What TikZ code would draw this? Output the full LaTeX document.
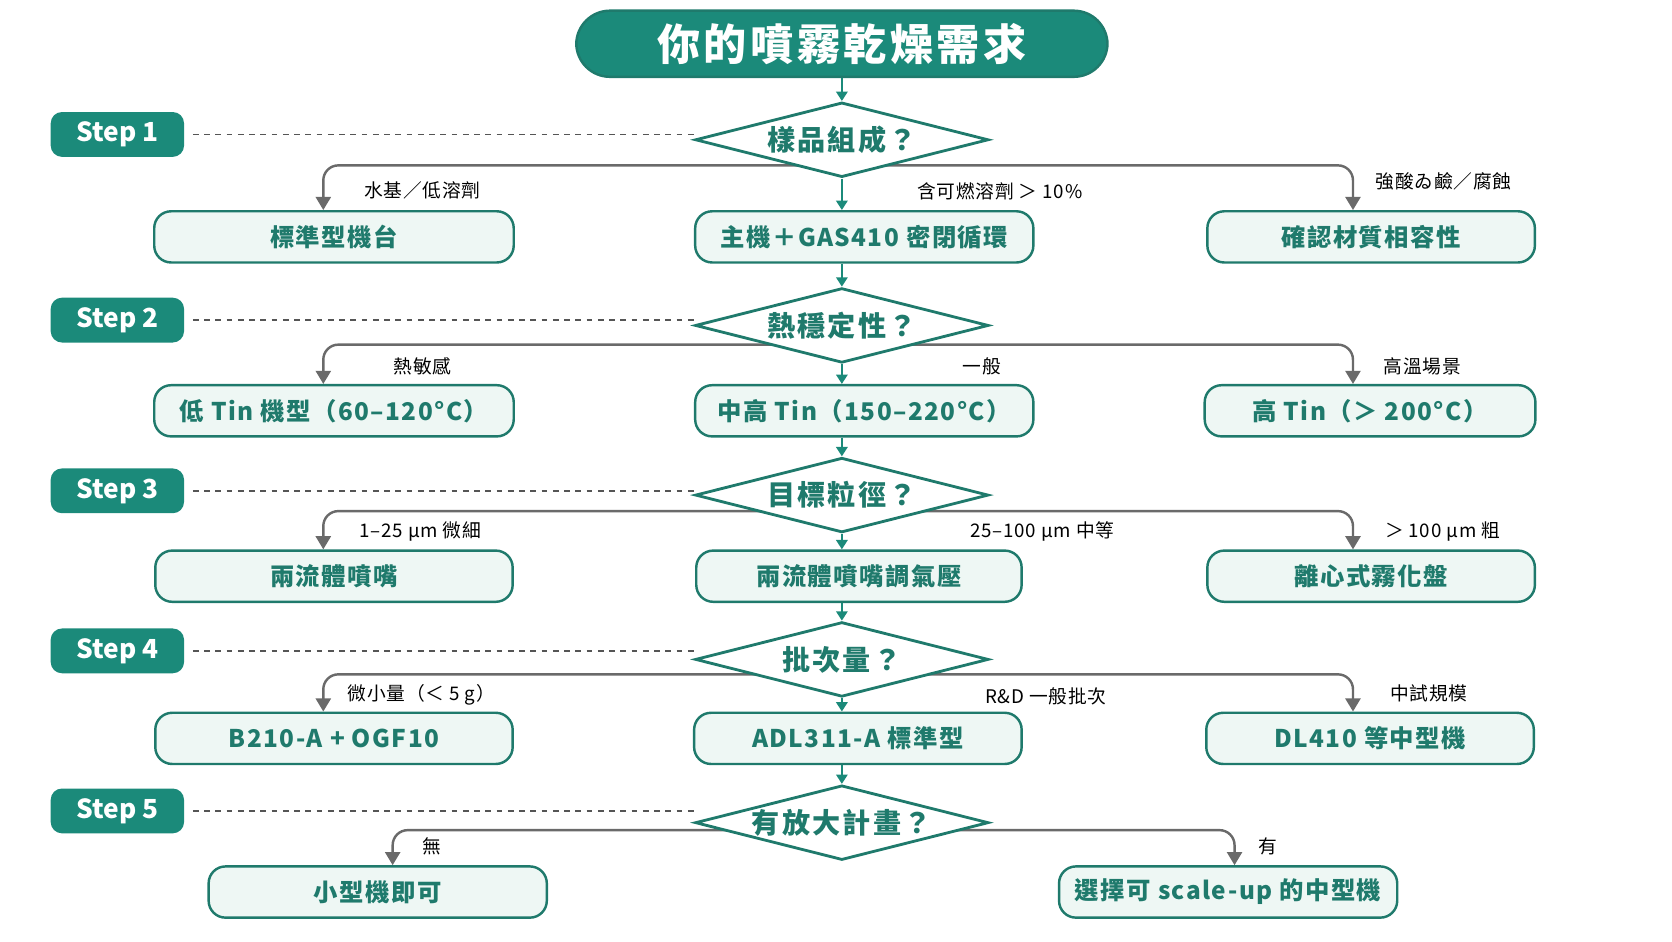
\documentclass[tikz,border=0pt]{standalone}
\usepackage{fontspec}
\setmainfont{Noto Sans CJK TC}
\usepackage{xcolor}
\definecolor{colorTeal}{HTML}{1B8A7A}
\definecolor{colorEdge}{HTML}{1F7A6C}
\definecolor{colorFill}{HTML}{EEF7F4}
\definecolor{colorBranch}{HTML}{6A6A6A}
\usetikzlibrary{arrows.meta, shapes.geometric, positioning}
\pgfdeclarelayer{background}
\pgfsetlayers{background,main}
\tikzset{
  choicebox/.style={draw=colorEdge, line width=1.3pt, fill=colorFill, rounded corners=9pt, minimum width=#1, minimum height=0.96cm, text=colorEdge, font=\bfseries\fontsize{13}{15}\selectfont\addfontfeature{LetterSpace=6}},
  question/.style={diamond, draw=colorEdge, line width=1.5pt, fill=white, aspect=4, minimum width=5.5cm, minimum height=1.4cm, inner sep=0pt, text=colorEdge, font=\bfseries\fontsize{15}{17}\selectfont\addfontfeature{LetterSpace=8}},
  stepbadge/.style={fill=colorTeal, rounded corners=6pt, minimum width=2.5cm, minimum height=0.84cm, text=white, font=\bfseries\fontsize{14}{16}\selectfont},
  flow/.style={-{Triangle[length=5pt,width=6pt]}, colorTeal, line width=1.3pt},
  branch/.style={-{Triangle[length=7pt,width=8pt]}, colorBranch, line width=1.3pt, rounded corners=8pt},
  lbl/.style={font=\fontsize{10}{12}\selectfont\addfontfeature{LetterSpace=4}, text=black}
}
\begin{document}
\begin{tikzpicture}[x=0.02cm, y=-0.02cm]
\useasboundingbox (0,0) rectangle (1567,882);
\node[fill=colorTeal, draw=colorEdge, line width=1.3pt, rounded corners=18pt, minimum width=9.96cm, minimum height=1.24cm, text=white, font=\bfseries\fontsize{23}{26}\selectfont\addfontfeature{LetterSpace=8}] (title) at (789,41) {你的噴霧乾燥需求};
% steps and dashed guides
\foreach \n/\y in {1/126, 2/300, 3/460, 4/610, 5/760} {
  \node[stepbadge] (step\n) at (110,\y) {Step \n};
  \draw[dashed, colorBranch!80!black, line width=1pt] (step\n.east) ++(8,0) -- (650,\y);
}
% questions
\node[question] (q1) at (789,131) {樣品組成？};
\node[question] (q2) at (789,305) {熱穩定性？};
\node[question] (q3) at (789,464) {目標粒徑？};
\node[question] (q4) at (789,618) {批次量？};
\node[question] (q5) at (789,771) {有放大計畫？};
% answers
\node[choicebox=6.74cm] (a1) at (313,222) {標準型機台};
\node[choicebox=6.34cm] (b1) at (810,222) {主機＋GAS410 密閉循環};
\node[choicebox=6.14cm] (c1) at (1285,222) {確認材質相容性};
\node[choicebox=6.74cm] (a2) at (313,385) {低 Tin 機型（60–120°C）};
\node[choicebox=6.34cm] (b2) at (810,385) {中高 Tin（150–220°C）};
\node[choicebox=6.2cm] (c2) at (1284,385) {高 Tin（＞ 200°C）};
\node[choicebox=6.7cm] (a3) at (313,540) {兩流體噴嘴};
\node[choicebox=6.1cm] (b3) at (805,540) {兩流體噴嘴調氣壓};
\node[choicebox=6.14cm] (c3) at (1285,540) {離心式霧化盤};
\node[choicebox=6.7cm] (a4) at (313,692) {B210-A + OGF10};
\node[choicebox=6.14cm] (b4) at (804,692) {ADL311-A 標準型};
\node[choicebox=6.14cm] (c4) at (1284,692) {DL410 等中型機};
\node[choicebox=6.34cm] (a5) at (354,836) {小型機即可};
\node[choicebox=6.34cm] (c5) at (1151,836) {選擇可 scale-up 的中型機};
% main flow
\draw[flow] (title) -- (q1.north);
\foreach \i/\j in {1/2, 2/3, 3/4, 4/5} {
  \draw[flow] (q\i.south) -- (b\i.north -| q\i);
  \draw[flow] (b\i.south -| q\i) -- (q\j.north);
}
% branches, behind the diamonds
\begin{pgfonlayer}{background}
\foreach \i/\y in {1/155, 2/323, 3/479, 4/632} {
  \draw[branch] (q\i.center |- 0,\y) -| (a\i.north -| 303,0);
  \draw[branch] (q\i.center |- 0,\y) -| (c\i.north -| 1268,0);
}
\draw[branch] (q5.center |- 0,778) -| (a5.north -| 368,0);
\draw[branch] (q5.center |- 0,778) -| (c5.north -| 1157,0);
\end{pgfonlayer}
% labels
\node[lbl] (l1a) at (396,178) {水基／低溶劑};
\node[lbl] (l1b) at (937,179) {含可燃溶劑 ＞ 10\%};
\node[lbl] (l1c) at (1353,170) {強酸ゐ鹼／腐蝕};
\node[lbl] (l2a) at (396,343) {熱敏感};
\node[lbl] (l2b) at (920,343) {一般};
\node[lbl] (l2c) at (1333,343) {高溫場景};
\node[lbl] (l3a) at (394,498) {1–25 μm 微細};
\node[lbl] (l3b) at (977,498) {25–100 μm 中等};
\node[lbl] (l3c) at (1352,498) {＞ 100 μm 粗};
\node[lbl] (l4a) at (395,651) {微小量（＜ 5 g）};
\node[lbl] (l4b) at (980,653) {R\&D 一般批次};
\node[lbl] (l4c) at (1339,650) {中試規模};
\node[lbl] (l5a) at (405,793) {無};
\node[lbl] (l5c) at (1188,793) {有};
\end{tikzpicture}
\end{document}
